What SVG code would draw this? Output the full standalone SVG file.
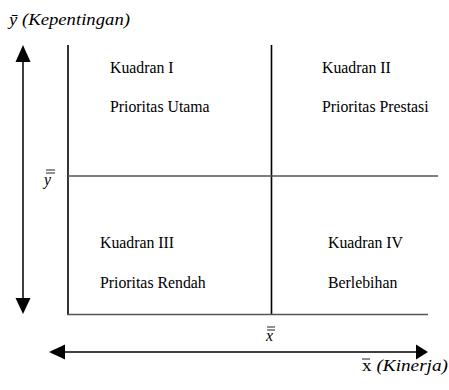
<svg xmlns="http://www.w3.org/2000/svg" width="449" height="390" viewBox="0 0 449 390">
<style>
text{font-family:"Liberation Serif","Times New Roman","DejaVu Serif",serif;font-size:15.8px;fill:#000}
.it{font-style:italic}
.v{stroke:#000;stroke-width:1.6}
.h{stroke:#555;stroke-width:1.6}
.ax{stroke:#000;stroke-width:1.5;fill:none}
.bar{stroke:#222;stroke-width:1}
</style>
<rect width="449" height="390" fill="#fff"/>
<g id="connectors">
<line class="ax" x1="23" y1="52" x2="23" y2="307"/>
<path d="M23,45 L15.5,62 L30.5,62 z" fill="#000"/>
<path d="M23,314 L15.5,298 L30.5,298 z" fill="#000"/>
<line class="ax" x1="56" y1="352" x2="420" y2="352"/>
<path d="M49,352 L65,344.5 L65,359.5 z" fill="#000"/>
<path d="M428,352 L416,344.5 L416,359.5 z" fill="#000"/>
</g>
<g id="grid">
<line class="v" x1="68" y1="45" x2="68" y2="315"/>
<line class="v" x1="271.5" y1="45" x2="271.5" y2="315"/>
<line class="h" x1="68" y1="176" x2="438" y2="176"/>
<line class="h" x1="67" y1="314.5" x2="428" y2="314.5"/>
</g>
<g id="q1">
<text x="110" y="73">Kuadran I</text>
<text x="110" y="112">Prioritas Utama</text>
</g>
<g id="q2">
<text x="322" y="73">Kuadran II</text>
<text x="322" y="112">Prioritas Prestasi</text>
</g>
<g id="q3">
<text x="100" y="248">Kuadran III</text>
<text x="100" y="288">Prioritas Rendah</text>
</g>
<g id="q4">
<text x="328" y="248">Kuadran IV</text>
<text x="328" y="288">Berlebihan</text>
</g>
<g id="labels">
<text class="it" x="9" y="25" textLength="121" lengthAdjust="spacingAndGlyphs">ȳ (Kepentingan)</text>
<text class="it" x="44" y="185">y</text>
<line class="bar" x1="46" y1="170" x2="55" y2="170"/>
<line class="bar" x1="46" y1="173" x2="55" y2="173"/>
<text class="it" x="266" y="341">x</text>
<line class="bar" x1="267" y1="327" x2="275" y2="327"/>
<line class="bar" x1="267" y1="330" x2="275" y2="330"/>
<text x="362" y="371" textLength="86" lengthAdjust="spacingAndGlyphs">x <tspan class="it">(Kinerja)</tspan></text>
<line class="bar" x1="362" y1="359" x2="370" y2="359"/>
</g>
</svg>
